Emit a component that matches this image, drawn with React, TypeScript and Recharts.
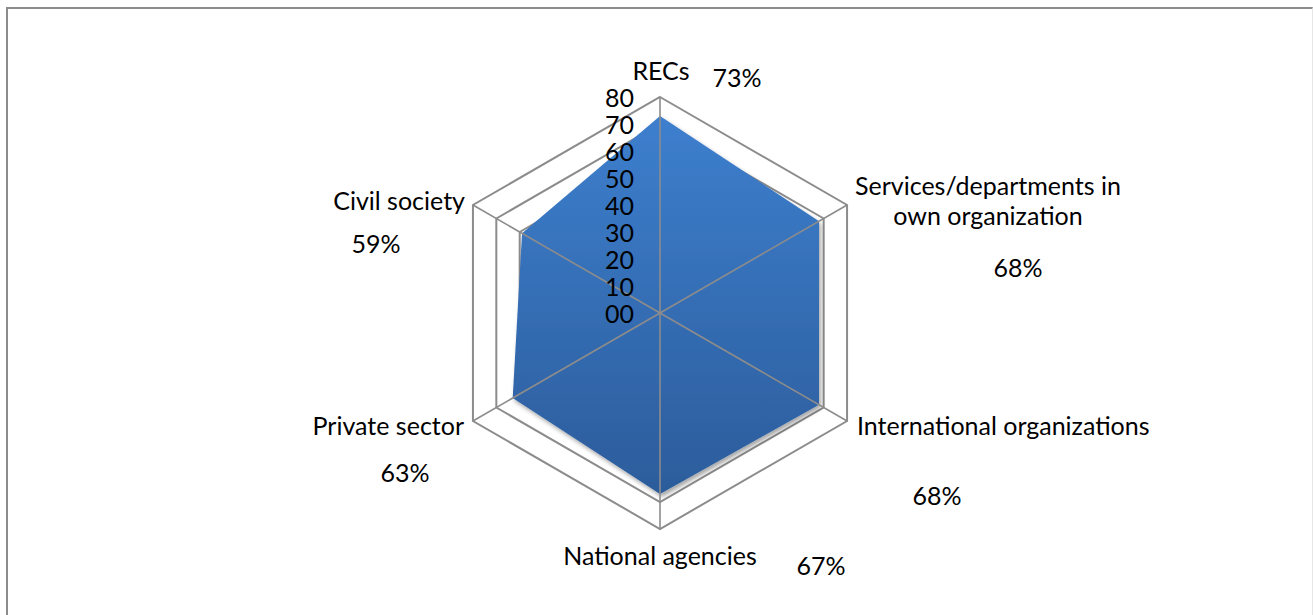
import React from "react";
import {
  RadarChart,
  Radar,
  PolarGrid,
  PolarAngleAxis,
  PolarRadiusAxis,
} from "recharts";

const categories = [
  "RECs",
  "Services/departments in own organization",
  "International organizations",
  "National agencies",
  "Private sector",
  "Civil society",
];
const values = [73, 68, 68, 67, 63, 59];
const percentLabels = ["73%", "68%", "68%", "67%", "63%", "59%"];
const radiusTicks = [0, 10, 20, 30, 40, 50, 60, 70, 80];

const data = categories.map((c, i) => ({ name: c, value: values[i] }));

const W = 1305;
const H = 606;
const CX = 652;
const CY = 304;
const R = 216;
const FONT = "Lato, 'Open Sans', sans-serif";
const FS = 25;

// label placement relative to chart centre: [lines, anchor, dx, dy, pctDx, pctDy]
const LABEL_POS: [string[], "start" | "middle" | "end", number, number, number, number][] = [
  [["RECs"], "middle", 1, -243, 77, -236],
  [["Services/departments in", "own organization"], "middle", 328, -128, 358, -46],
  [["International organizations"], "start", 197, 112, 277, 182],
  [["National agencies"], "middle", 0, 242, 161, 252],
  [["Private sector"], "end", -196, 112, -255, 159],
  [["Civil society"], "end", -195, -113, -284, -70],
];

function AngleTick(props: any) {
  const i = props.index ?? 0;
  const [lines, anchor, dx, dy, px, py] = LABEL_POS[i];
  return (
    <g>
      {lines.map((l, k) => (
        <text
          key={k}
          x={CX + dx}
          y={CY + dy + k * 30}
          textAnchor={anchor}
          dominantBaseline="central"
          fontFamily={FONT}
          fontSize={FS}
          fill="#000"
        >
          {l}
        </text>
      ))}
      <text
        x={CX + px}
        y={CY + py}
        textAnchor="middle"
        dominantBaseline="central"
        fontFamily={FONT}
        fontSize={FS}
        fill="#000"
      >
        {percentLabels[i]}
      </text>
    </g>
  );
}

function RadiusTick(props: any) {
  const { x, y, payload } = props;
  return (
    <text
      x={x - 26}
      y={y}
      textAnchor="end"
      dominantBaseline="central"
      fontFamily={FONT}
      fontSize={FS}
      fill="#000"
    >
      {String(payload.value).padStart(2, "0")}
    </text>
  );
}

// filled area plus the spokes that sit on top of it
function RadarShape(props: any) {
  const pts = props.points || [];
  const d =
    pts.map((p: any, i: number) => `${i === 0 ? "M" : "L"}${p.x},${p.y}`).join(" ") + " Z";
  return (
    <g>
      <path d={d} fill="url(#radarFill)" stroke="none" filter="url(#radarShadow)" />
      {pts.map((p: any, i: number) => {
        const a = (p.angle * Math.PI) / 180;
        const cx = p.cx ?? CX;
        const cy = p.cy ?? CY;
        return (
          <line
            key={i}
            x1={cx}
            y1={cy}
            x2={cx + R * Math.cos(a)}
            y2={cy - R * Math.sin(a)}
            stroke="#8c8c8c"
            strokeWidth={1.6}
          />
        );
      })}
    </g>
  );
}

export default function App() {
  return (
    <div
      style={{
        position: "absolute",
        left: 6,
        top: 7,
        width: 1307,
        height: 608,
        boxSizing: "border-box",
        borderTop: "2px solid #8c8c8c",
        borderLeft: "2px solid #8c8c8c",
        borderRight: "1px solid #e6e6e6",
        background: "#fff",
      }}
    >
      <RadarChart
        width={W}
        height={H}
        data={data}
        cx={CX}
        cy={CY}
        outerRadius={R}
        startAngle={90}
        endAngle={-270}
        margin={{ top: 0, right: 0, bottom: 0, left: 0 }}
      >
        <defs>
          <linearGradient id="radarFill" x1="0" y1="0" x2="0" y2="1">
            <stop offset="0%" stopColor="#3d7fce" />
            <stop offset="100%" stopColor="#2c5c9b" />
          </linearGradient>
          <filter id="radarShadow" x="-10%" y="-10%" width="120%" height="120%">
            <feDropShadow dx="2" dy="3" stdDeviation="2" floodColor="#000" floodOpacity="0.35" />
          </filter>
        </defs>
        <PolarGrid gridType="polygon" radialLines={false} stroke="#8c8c8c" strokeWidth={2} />
        <PolarRadiusAxis
          angle={90}
          domain={[0, 80]}
          ticks={radiusTicks as any}
          tickCount={9}
          axisLine={false}
          tickLine={false}
          tick={<RadiusTick />}
        />
        <PolarAngleAxis
          dataKey="name"
          tick={<AngleTick />}
          tickLine={false}
          axisLine={false}
        />
        <Radar
          dataKey="value"
          isAnimationActive={false}
          shape={<RadarShape />}
        />
      </RadarChart>
    </div>
  );
}
